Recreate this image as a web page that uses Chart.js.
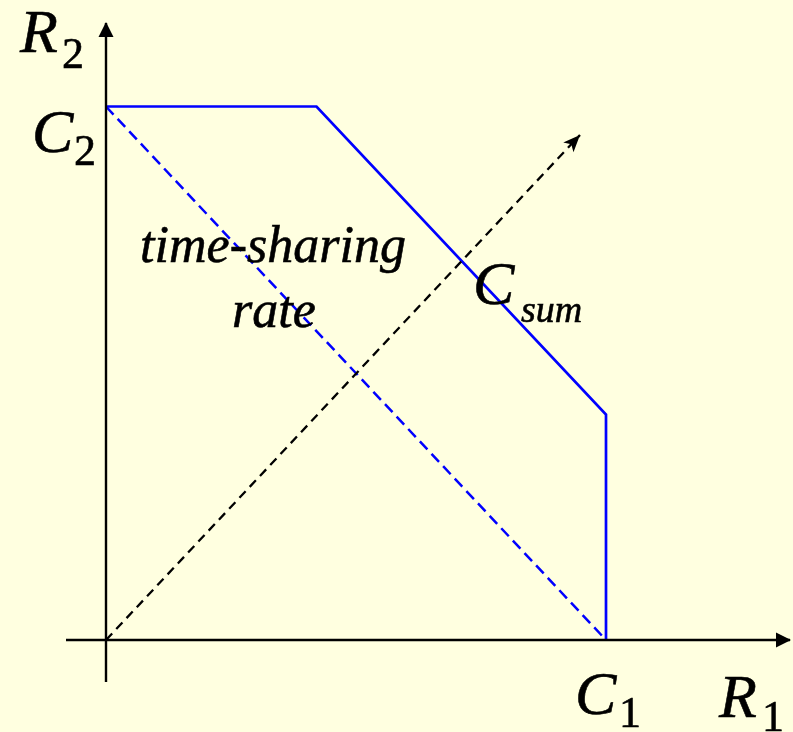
<!DOCTYPE html>
<html><head><meta charset="utf-8">
<script src="https://cdn.jsdelivr.net/npm/chart.js@4/dist/chart.umd.min.js"></script>
<style>html,body{margin:0;padding:0;background:#FFFFE0;}canvas{display:block;}</style>
</head><body>
<canvas id="c" width="793" height="732"></canvas>
<script>
// Rate region data (units: C1 = 10)
const regionR1 = [0, 4.21, 10, 10];
const regionR2 = [10.67, 10.67, 4.51, 0];
const timeShareR1 = [0, 10];
const timeShareR2 = [10.67, 0];
const sumDirR1 = [0, 9.48];
const sumDirR2 = [0, 10.1];
const axisXR1 = [-0.8, 13.68];
const axisXR2 = [0, 0];
const axisYR1 = [0, 0];
const axisYR2 = [-0.84, 12.34];

const pts = (xs, ys) => xs.map((x, i) => ({x: x, y: ys[i]}));
const SERIF = '"Liberation Serif", "Times New Roman", serif';

const bgPlugin = {
  id: 'bg',
  beforeDraw(chart) {
    const c = chart.ctx;
    c.save(); c.fillStyle = '#FFFFE0';
    c.fillRect(0, 0, chart.width, chart.height); c.restore();
  }
};

function arrowHead(ctx, x0, y0, x1, y1, len, half, color, notch) {
  const a = Math.atan2(y1 - y0, x1 - x0);
  ctx.save();
  ctx.translate(x1, y1); ctx.rotate(a);
  ctx.fillStyle = color;
  ctx.beginPath();
  ctx.moveTo(0, 0);
  ctx.lineTo(-len, -half);
  if (notch) ctx.lineTo(-len * notch, 0);
  ctx.lineTo(-len, half);
  ctx.closePath(); ctx.fill();
  ctx.restore();
}

const decoPlugin = {
  id: 'deco',
  afterDatasetsDraw(chart) {
    const ctx = chart.ctx;
    const xs = chart.scales.x, ys = chart.scales.y;
    const px = v => xs.getPixelForValue(v), py = v => ys.getPixelForValue(v);
    arrowHead(ctx, px(axisXR1[0]), py(0), px(axisXR1[1]) + 1, py(0), 15, 7.5, '#000');
    arrowHead(ctx, px(0), py(axisYR2[0]), px(0), py(axisYR2[1]) - 1, 15, 7.5, '#000');
    arrowHead(ctx, px(sumDirR1[0]), py(sumDirR2[0]), px(sumDirR1[1]), py(sumDirR2[1]), 17, 7, '#000', 0.75);
    ctx.save();
    ctx.fillStyle = '#000';
    ctx.strokeStyle = '#000';
    ctx.lineWidth = 0.6;
    ctx.textBaseline = 'alphabetic';
    const txt = (s, x, y) => { ctx.fillText(s, x, y); ctx.strokeText(s, x, y); };
    const big = 'italic 62px ' + SERIF;
    const sub = '44px ' + SERIF;
    const lab = (main, s, x, y, sx, sy, subFont) => {
      ctx.font = big; ctx.textAlign = 'left';
      txt(main, x, y);
      ctx.font = subFont || sub;
      txt(s, sx, sy);
    };
    lab('R', '2', 20, 52, 62, 68);
    lab('C', '2', 32, 152, 74, 165);
    lab('C', '1', 575, 714, 619, 727);
    lab('R', '1', 719, 717, 762, 731);
    lab('C', 'sum', 473, 304, 521, 322, 'italic 38px ' + SERIF);
    ctx.font = 'italic 52px ' + SERIF;
    ctx.textAlign = 'center';
    txt('time-sharing', 273, 262);
    txt('rate', 274, 327);
    ctx.restore();
  }
};

function build() {
  new Chart(document.getElementById('c'), {
    type: 'scatter',
    data: {
      datasets: [
        {data: pts(axisXR1, axisXR2), showLine: true, borderColor: '#000', borderWidth: 2.4, pointRadius: 0},
        {data: pts(axisYR1, axisYR2), showLine: true, borderColor: '#000', borderWidth: 2.4, pointRadius: 0},
        {data: pts(sumDirR1, sumDirR2), showLine: true, borderColor: '#000', borderWidth: 2.3, borderDash: [9, 6], pointRadius: 0},
        {data: pts(timeShareR1, timeShareR2), showLine: true, borderColor: '#0000FF', borderWidth: 2.5, borderDash: [11, 6], pointRadius: 0},
        {data: pts(regionR1, regionR2), showLine: true, borderColor: '#0000FF', borderWidth: 2.7, pointRadius: 0}
      ]
    },
    options: {
      responsive: false,
      animation: false,
      devicePixelRatio: 1,
      layout: {padding: 0},
      plugins: {legend: {display: false}, tooltip: {enabled: false}},
      scales: {
        x: {type: 'linear', min: -2.12, max: 13.74, display: false},
        y: {type: 'linear', min: -1.84, max: 12.8, display: false}
      }
    },
    plugins: [bgPlugin, decoPlugin]
  });
}
Promise.all([
  document.fonts.load('italic 62px "Liberation Serif"'),
  document.fonts.load('44px "Liberation Serif"')
]).then(build, build);
</script>
</body></html>
